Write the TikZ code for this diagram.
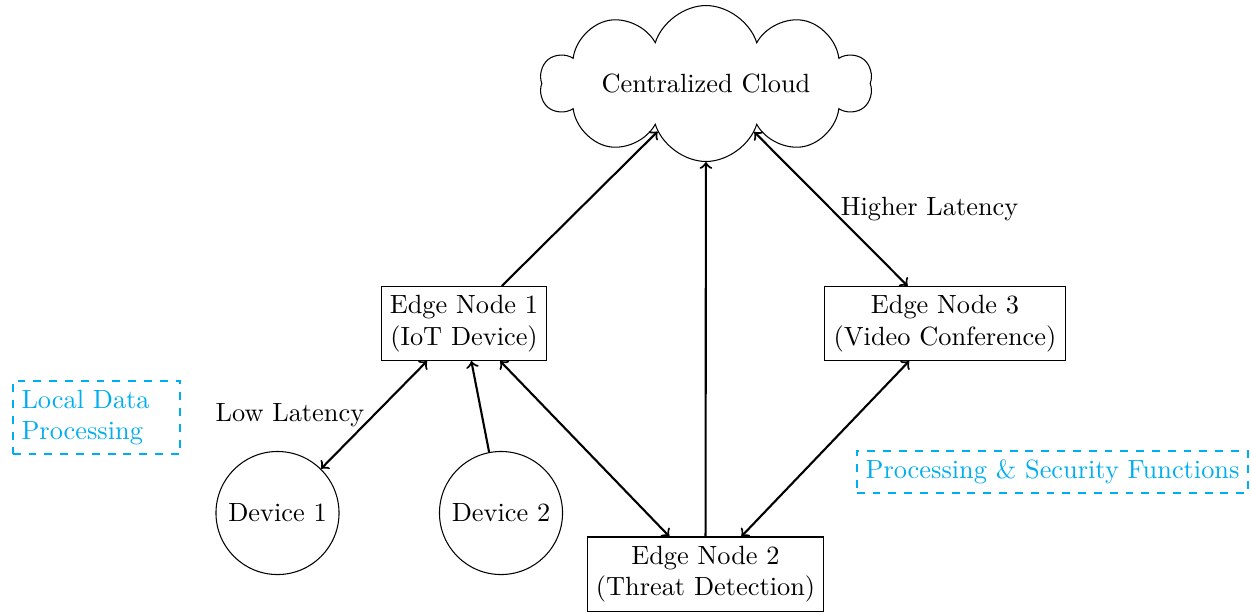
\documentclass[tikz,border=0pt]{standalone}
\usetikzlibrary{shapes.symbols}
\definecolor{notecolor}{RGB}{0,174,239}
\begin{document}
\begin{tikzpicture}[x=0.3795pt, y=-0.3795pt,
  boxnode/.style={draw, align=center},
  devnode/.style={draw, circle, minimum size=46.7pt, inner sep=0pt},
  cloudnode/.style={draw, cloud, cloud puffs=10, cloud puff arc=145, aspect=3.83, inner sep=4.46pt},
  link/.style={thick},
  note/.style={draw=notecolor, text=notecolor, dashed, thick}]
\useasboundingbox (0,0) rectangle (1251,612);

% nodes
\node[cloudnode] (cloud) at (706,83.5) {Centralized Cloud};
\node[boxnode] (edge1) at (464,323.5) {Edge Node 1\\(IoT Device)};
\node[boxnode] (edge3) at (945,323.5) {Edge Node 3\\(Video Conference)};
\node[boxnode] (edge2) at (705.5,574) {Edge Node 2\\(Threat Detection)};
\node[devnode] (dev1) at (277.5,513) {Device 1};
\node[devnode] (dev2) at (501,513) {Device 2};

% annotations
\node[note, text width=2cm, align=left] (local) at (96.5,417.5) {Local Data Processing};
\node[note] (proc) at (1052.5,472) {Processing \& Security Functions};

% connections
\draw[link, ->] (edge1) -- (cloud);
\draw[link, ->] (edge2) -- (cloud);
\draw[link, <->] (cloud) -- (edge3) node[midway, right] {Higher Latency};
\draw[link, <->] (edge1) -- (dev1) node[midway, left] {Low Latency};
\draw[link, ->] (dev2) -- (edge1);
\draw[link, <->] (edge1) -- (edge2);
\draw[link, <->] (edge3) -- (edge2);
\end{tikzpicture}
\end{document}
